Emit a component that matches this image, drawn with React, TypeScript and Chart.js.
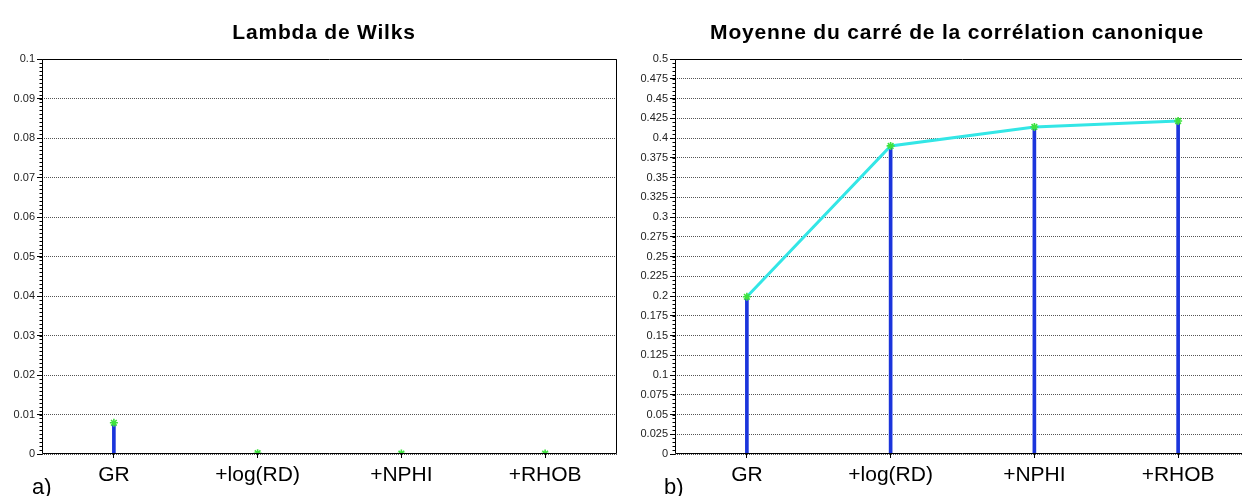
import React, { useEffect, useRef } from "react";
import { Chart, registerables } from "chart.js";

Chart.register(...registerables);

const categories = ["GR", "+log(RD)", "+NPHI", "+RHOB"];
const wilksValues = [0.0079, 0.0002, 0.0001, 0.0001];
const corrValues = [0.199, 0.39, 0.414, 0.4215];
const wilksAxis = { min: 0, max: 0.1, step: 0.01, minor: 0.001 };
const corrAxis = { min: 0, max: 0.5, step: 0.025, minor: 0.005 };
const titleA = "Lambda de Wilks";
const titleB = "Moyenne du carré de la corrélation canonique";

const FONT = "'Liberation Sans', Arial, Helvetica, sans-serif";
const STEM = "#1b35dc";
const CYAN = "#33e6e6";
const GREEN = "#3ee23e";

function makeFramePlugin(axis: { min: number; max: number; minor: number }, drawRight: boolean) {
  return {
    id: "frameMinor",
    afterDraw(chart: any) {
      const { ctx, chartArea: a } = chart;
      const ys = chart.scales.y;
      ctx.save();
      ctx.strokeStyle = "#000";
      ctx.lineWidth = 1;
      const l = Math.round(a.left) + 0.5;
      const r = Math.round(a.right) - 0.5;
      const t = Math.round(a.top) + 0.5;
      const b = Math.round(a.bottom) - 0.5;
      ctx.beginPath();
      ctx.moveTo(l, b);
      ctx.lineTo(l, t);
      ctx.lineTo(r, t);
      if (drawRight) ctx.lineTo(r, b);
      ctx.moveTo(l, b);
      ctx.lineTo(r, b);
      ctx.stroke();
      // minor ticks
      const n = Math.round((axis.max - axis.min) / axis.minor);
      ctx.beginPath();
      for (let i = 0; i <= n; i++) {
        const v = axis.min + i * axis.minor;
        const y = Math.round(ys.getPixelForValue(v)) + 0.5;
        ctx.moveTo(l - 3, y);
        ctx.lineTo(l, y);
      }
      ctx.stroke();
      ctx.restore();
    },
  };
}

function fmt(v: number) {
  return String(parseFloat(Number(v).toFixed(4)));
}

function buildConfig(
  values: number[],
  axis: { min: number; max: number; step: number; minor: number },
  showLine: boolean,
  yWidth: number,
  padRight: number,
  drawRight: boolean
): any {
  return {
    type: "bar",
    data: {
      labels: categories,
      datasets: [
        {
          type: "line",
          data: values,
          order: 1,
          showLine,
          borderColor: CYAN,
          borderWidth: 3,
          pointStyle: "star",
          pointRadius: 4,
          pointBorderColor: GREEN,
          pointBackgroundColor: GREEN,
          pointBorderWidth: 1.6,
          tension: 0,
        },
        {
          type: "bar",
          data: values,
          order: 2,
          backgroundColor: STEM,
          borderWidth: 0,
          barThickness: 3,
        },
      ],
    },
    options: {
      animation: false,
      responsive: false,
      events: [],
      layout: { padding: { top: 59, left: 0, right: padRight, bottom: 0 } },
      plugins: { legend: { display: false }, title: { display: false }, tooltip: { enabled: false } },
      scales: {
        x: {
          type: "category",
          offset: true,
          grid: { display: true, drawOnChartArea: false, drawTicks: true, tickLength: 4, tickColor: "#000", offset: false },
          border: { display: false },
          ticks: {
            color: "#000",
            font: { family: FONT, size: 21 },
            padding: 5,
            maxRotation: 0,
            autoSkip: false,
          },
          afterFit: (s: any) => {
            s.height = 42;
          },
        },
        y: {
          min: axis.min,
          max: axis.max,
          grid: {
            color: "#555",
            lineWidth: 1,
            tickLength: 5,
            tickColor: "#000",
            tickBorderDash: [],
          },
          border: { display: false, dash: [1, 1] },
          ticks: {
            stepSize: axis.step,
            color: "#222",
            padding: 2,
            font: { family: FONT, size: 11 },
            callback: (v: any) => fmt(v),
          },
          afterFit: (s: any) => {
            s.width = yWidth;
          },
        },
      },
    },
    plugins: [makeFramePlugin(axis, drawRight)],
  };
}

function ChartCanvas(props: { config: () => any; width: number; height: number; left: number }) {
  const ref = useRef<HTMLCanvasElement | null>(null);
  useEffect(() => {
    if (!ref.current) return;
    const c = new Chart(ref.current, props.config());
    return () => c.destroy();
  }, []);
  return (
    <canvas
      ref={ref}
      width={props.width}
      height={props.height}
      style={{ position: "absolute", left: props.left, top: 0, width: props.width, height: props.height, display: "block" }}
    />
  );
}

const textBase: React.CSSProperties = {
  position: "absolute",
  fontFamily: FONT,
  color: "#000",
  whiteSpace: "nowrap",
  lineHeight: 1,
};

export default function App() {
  return (
    <div
      style={{
        position: "fixed",
        left: 0,
        top: 0,
        width: 1242,
        height: 496,
        overflow: "hidden",
        background: "#fff",
      }}
    >
      <ChartCanvas
        left={0}
        width={625}
        height={496}
        config={() => buildConfig(wilksValues, wilksAxis, false, 42, 8, true)}
      />
      <ChartCanvas
        left={630}
        width={640}
        height={496}
        config={() => buildConfig(corrValues, corrAxis, true, 45, 20, false)}
      />
      <div style={{ ...textBase, left: 324, top: 21, transform: "translateX(-50%)", fontWeight: "bold", fontSize: 21, letterSpacing: 0.8 }}>
        {titleA}
      </div>
      <div style={{ ...textBase, left: 957, top: 21, transform: "translateX(-50%)", fontWeight: "bold", fontSize: 21, letterSpacing: 0.8 }}>
        {titleB}
      </div>
      <div style={{ ...textBase, left: 32, top: 476, fontSize: 22 }}>a)</div>
      <div style={{ ...textBase, left: 664, top: 476, fontSize: 22 }}>b)</div>
    </div>
  );
}
